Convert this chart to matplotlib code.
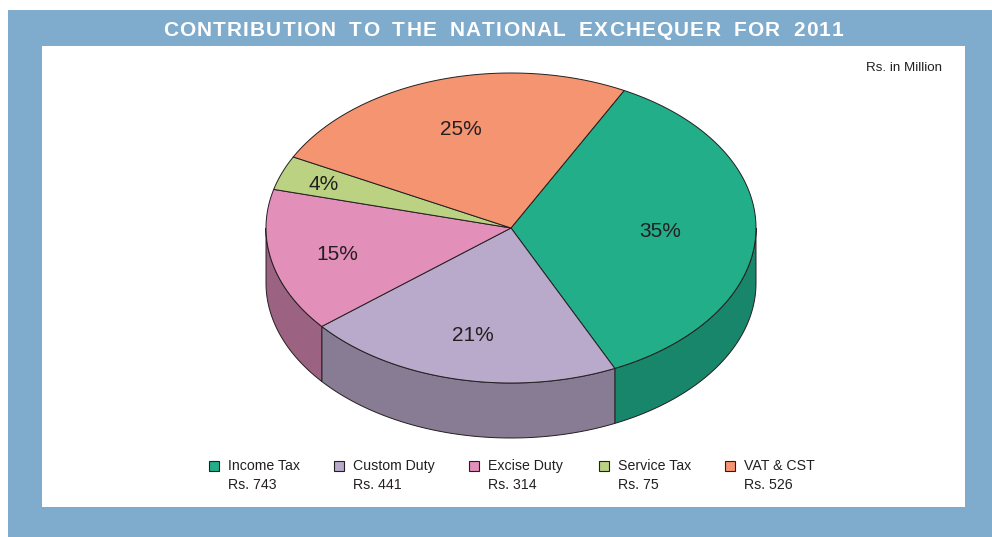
import numpy as np
import matplotlib
matplotlib.use("Agg")
import matplotlib.pyplot as plt
from matplotlib.patches import Polygon, Rectangle

plt.rcParams['font.family'] = ['Liberation Sans', 'DejaVu Sans']

# ---- data ----
categories = ["Income Tax", "Custom Duty", "Excise Duty", "Service Tax", "VAT & CST"]
values = [743, 441, 314, 75, 526]
value_labels = ["Rs. 743", "Rs. 441", "Rs. 314", "Rs. 75", "Rs. 526"]
title = "CONTRIBUTION TO THE NATIONAL EXCHEQUER FOR 2011"
unit_note = "Rs. in Million"

top_colors = ["#22ae89", "#b9a9cb", "#e28fb9", "#bbd283", "#f59471"]
side_colors = ["#17866a", "#877c94", "#9b6381", "#8fa060", "#c07050"]
frame_color = "#7fabcc"
edge = "#231f20"

W, H = 992, 537
fig = plt.figure(figsize=(W / 100, H / 100), dpi=100)
fig.patch.set_facecolor("white")
ax = fig.add_axes([0, 0, 1, 1])
ax.set_xlim(0, W)
ax.set_ylim(H, 0)
ax.axis("off")

# frame and panel
ax.add_patch(Rectangle((8, 10), W - 8, H - 10, facecolor=frame_color, edgecolor="none", zorder=0))
ax.add_patch(Rectangle((42, 46), 965 - 42, 507 - 46, facecolor="white", edgecolor="none", zorder=1))

# title with letter tracking (drawn char by char)
renderer = fig.canvas.get_renderer()
title_fs = 15
tmp = [ax.text(0, 0, ch if ch != " " else "\u00a0", fontsize=title_fs, fontweight="bold")
       for ch in title]
widths = []
for t in tmp:
    bb = t.get_window_extent(renderer=renderer)
    widths.append(bb.width)
    t.remove()
space_extra = 5.0
track = 1.2
total_w = sum(widths) + track * (len(title) - 1) + space_extra * title.count(" ")
x = 503 - total_w / 2
for ch, w in zip(title, widths):
    if ch != " ":
        ax.text(x, 36, ch, fontsize=title_fs, fontweight="bold", color="white",
                ha="left", va="baseline", zorder=2)
    x += w + track + (space_extra if ch == " " else 0)

ax.text(942, 68, unit_note, color=edge, fontsize=9.6, ha="right", va="center", zorder=2)

# ---- 3D pie ----
cx, cy, rx, ry, depth = 511, 228, 245, 155, 55
start = 62.5
total = float(sum(values))
spans = [v / total * 360.0 for v in values]
bounds = []
a = start
for s in spans:
    bounds.append((a - s, a))  # clockwise
    a -= s

def arc(t0, t1, dy=0.0, n=160):
    ts = np.radians(np.linspace(t0, t1, n))
    return np.column_stack([cx + rx * np.cos(ts), cy - ry * np.sin(ts) + dy])

# side walls (front half)
for (lo, hi), sc in zip(bounds, side_colors):
    for k in range(-2, 2):
        f0, f1 = 180 + 360 * k, 360 + 360 * k
        a0, a1 = max(lo, f0), min(hi, f1)
        if a1 > a0:
            poly = np.vstack([arc(a0, a1), arc(a1, a0, dy=depth)])
            ax.add_patch(Polygon(poly, closed=True, facecolor=sc, edgecolor=edge,
                                 linewidth=0.7, zorder=3))

# top faces
for (lo, hi), tc in zip(bounds, top_colors):
    poly = np.vstack([[cx, cy], arc(hi, lo)])
    ax.add_patch(Polygon(poly, closed=True, facecolor=tc, edgecolor=edge,
                         linewidth=0.7, zorder=4, joinstyle="round"))

# percentage labels near each slice's centroid
label_fs = 15
for (lo, hi), v in zip(bounds, values):
    pct = v / total * 100
    alpha = np.radians(hi - lo)
    mid = np.radians((lo + hi) / 2)
    centroid = 4 * np.sin(alpha / 2) / (3 * alpha)
    rr = centroid * 1.13 if pct >= 10 else 0.82
    lx = cx + rr * rx * np.cos(mid)
    ly = cy - rr * ry * np.sin(mid)
    ax.text(lx, ly + 0.36 * label_fs * 100 / 72, f"{pct:.0f}%", fontsize=label_fs,
            color=edge, ha="center", va="baseline", zorder=5)

# ---- legend ----
leg_sq = [209, 334, 469, 599, 725]
for xs, name, vl, tc in zip(leg_sq, categories, value_labels, top_colors):
    ax.add_patch(Rectangle((xs, 461), 10, 10, facecolor=tc, edgecolor=edge, linewidth=0.8, zorder=5))
    ax.text(xs + 19, 466, name, fontsize=10.2, color=edge, ha="left", va="center", zorder=5)
    ax.text(xs + 19, 485, vl, fontsize=10.2, color=edge, ha="left", va="center", zorder=5)

fig.savefig("out.png", dpi=100, facecolor=fig.get_facecolor())
